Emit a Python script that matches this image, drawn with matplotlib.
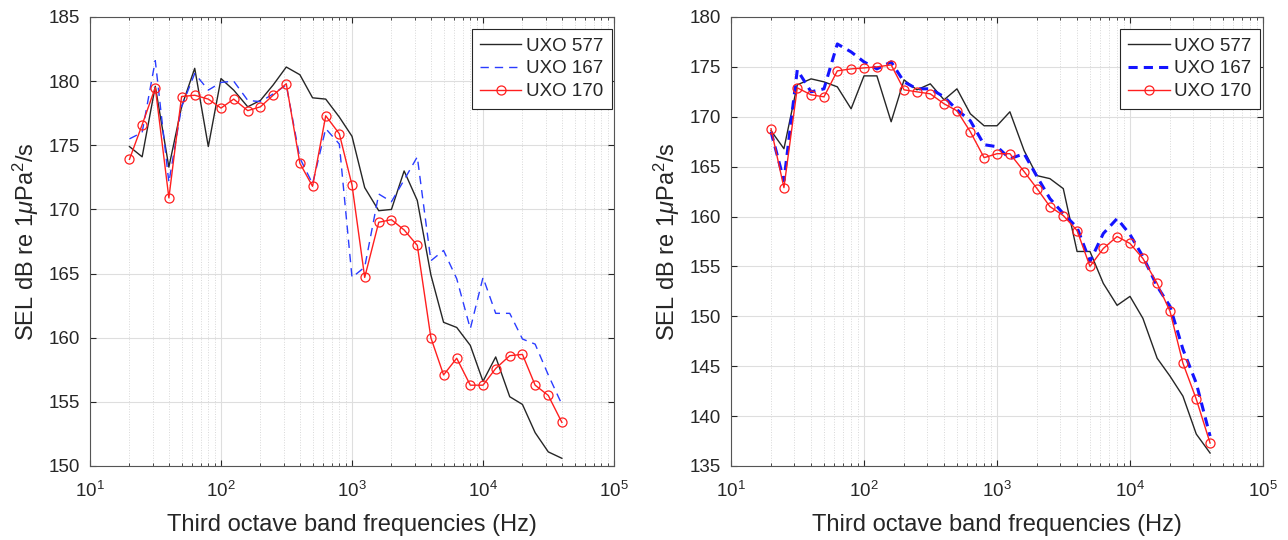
import matplotlib
matplotlib.use('Agg')
import matplotlib.pyplot as plt
from matplotlib.ticker import LogLocator, NullFormatter, MultipleLocator, NullLocator

plt.rcParams['font.family'] = ['Liberation Sans', 'DejaVu Sans']
plt.rcParams['mathtext.fontset'] = 'custom'
plt.rcParams['mathtext.rm'] = 'Liberation Sans'
plt.rcParams['mathtext.it'] = 'Liberation Sans:italic'

# Third octave band centre frequencies (Hz)
freqs = [20, 25, 31.5, 40, 50, 63, 80, 100, 125, 160, 200, 250, 315, 400, 500,
         630, 800, 1000, 1250, 1600, 2000, 2500, 3150, 4000, 5000, 6300, 8000,
         10000, 12500, 16000, 20000, 25000, 31500, 40000]

# left panel
left_577 = [174.9, 174.1, 179.6, 173.3, 178.0, 181.0, 174.9, 180.2, 179.3, 178.0,
            178.5, 179.7, 181.1, 180.5, 178.7, 178.6, 177.2, 175.7, 171.7, 169.9,
            170.0, 173.0, 170.7, 164.9, 161.2, 160.8, 159.4, 156.6, 158.5, 155.4,
            154.8, 152.6, 151.1, 150.6]
left_167 = [175.5, 176.0, 181.6, 172.1, 178.0, 180.6, 179.3, 179.9, 180.0, 178.5,
            178.4, 179.0, 179.7, 174.0, 172.0, 176.3, 175.1, 164.7, 165.5, 171.2,
            170.6, 172.3, 174.1, 166.0, 166.8, 164.6, 160.7, 164.7, 161.9, 161.9,
            159.9, 159.5, 157.1, 154.8]
left_170 = [173.9, 176.6, 179.5, 170.9, 178.8, 178.9, 178.6, 177.9, 178.6, 177.7,
            178.0, 178.9, 179.8, 173.6, 171.8, 177.3, 175.9, 171.9, 164.7, 169.0,
            169.2, 168.4, 167.2, 160.0, 157.1, 158.4, 156.3, 156.3, 157.6, 158.6,
            158.7, 156.3, 155.5, 153.4]

# right panel
right_577 = [168.6, 166.8, 173.2, 173.8, 173.5, 173.0, 170.8, 174.1, 174.1, 169.5,
             173.7, 172.7, 173.3, 171.7, 172.8, 170.3, 169.1, 169.1, 170.5, 166.6,
             164.1, 163.8, 162.8, 156.5, 156.5, 153.3, 151.1, 152.0, 149.8, 145.8,
             144.0, 142.0, 138.2, 136.3]
right_167 = [168.5, 163.6, 174.7, 172.5, 172.8, 177.3, 176.5, 175.5, 174.8, 175.5,
             173.5, 172.8, 172.8, 172.0, 170.7, 169.6, 167.2, 167.0, 165.8, 166.3,
             164.0, 161.8, 160.3, 158.9, 155.5, 158.3, 159.8, 158.2, 156.0, 153.0,
             151.0, 146.7, 143.3, 138.0]
right_170 = [168.8, 162.9, 172.9, 172.2, 172.0, 174.6, 174.8, 174.9, 175.0, 175.2,
             172.7, 172.5, 172.3, 171.3, 170.6, 168.5, 165.9, 166.3, 166.3, 164.5,
             162.8, 161.0, 160.1, 158.6, 155.0, 156.8, 158.0, 157.3, 155.8, 153.3,
             150.5, 145.3, 141.7, 137.3]

labels = ['UXO 577', 'UXO 167', 'UXO 170']
TXT = '#262626'


def draw_panel(ax, s577, s167, s170, ylim, blue_lw, blue_dash, blue_col, leg_x):
    ax.plot(freqs, s577, color='#262626', lw=1.0, label=labels[0])
    ax.plot(freqs, s167, color=blue_col, lw=blue_lw, ls=(0, blue_dash), label=labels[1])
    ax.plot(freqs, s170, color='#ff1f1f', lw=1.0, marker='o', ms=6.5,
            mfc='none', mec='#ff1f1f', mew=0.9, label=labels[2])
    ax.set_xscale('log')
    ax.set_xlim(10, 1e5)
    ax.set_ylim(*ylim)
    ax.yaxis.set_major_locator(MultipleLocator(5))
    ax.yaxis.set_minor_locator(NullLocator())
    ax.xaxis.set_major_locator(LogLocator(base=10, numticks=10))
    ax.xaxis.set_minor_locator(LogLocator(base=10, subs=range(2, 10), numticks=50))
    ax.xaxis.set_minor_formatter(NullFormatter())
    ax.grid(True, which='major', color='#dedede', lw=0.8, ls='-')
    ax.grid(True, which='minor', color='#d8d8d8', lw=0.7, ls=':')
    ax.set_axisbelow(True)
    ax.tick_params(which='both', direction='in', top=True, right=True,
                   colors=TXT, labelsize=13.5)
    ax.tick_params(which='major', length=4)
    ax.tick_params(which='minor', length=2)
    ax.tick_params(axis='x', which='major', pad=11)
    ax.tick_params(axis='y', which='major', pad=7)
    for sp in ax.spines.values():
        sp.set_color('#555555')
        sp.set_linewidth(0.8)
    ax.set_xlabel('Third octave band frequencies (Hz)', fontsize=17, color=TXT,
                  labelpad=9)
    ax.set_ylabel(r'SEL dB re 1$\mu$Pa$^2$/s', fontsize=17, color=TXT, labelpad=6)
    leg = ax.legend(loc='upper right', bbox_to_anchor=(leg_x, 0.973),
                    borderaxespad=0, fontsize=13.5, frameon=True, fancybox=False,
                    edgecolor='#262626', framealpha=1, handlelength=2.2,
                    labelspacing=0.3, borderpad=0.45, handletextpad=0.25)
    leg.get_frame().set_linewidth(0.8)
    for t in leg.get_texts():
        t.set_color(TXT)


fig = plt.figure(figsize=(12.88, 5.4), dpi=100)
ax1 = fig.add_axes([0.06988, 0.13704, 0.40683, 0.83148])
ax2 = fig.add_axes([0.56755, 0.13704, 0.41304, 0.83148])

draw_panel(ax1, left_577, left_167, left_170, (150, 185), 1.0, (6, 4.3), '#2a3cff', 0.9956)
draw_panel(ax2, right_577, right_167, right_170, (135, 180), 2.2, (3, 2), '#1414ff', 0.9944)

fig.savefig('out.png', dpi=100)
